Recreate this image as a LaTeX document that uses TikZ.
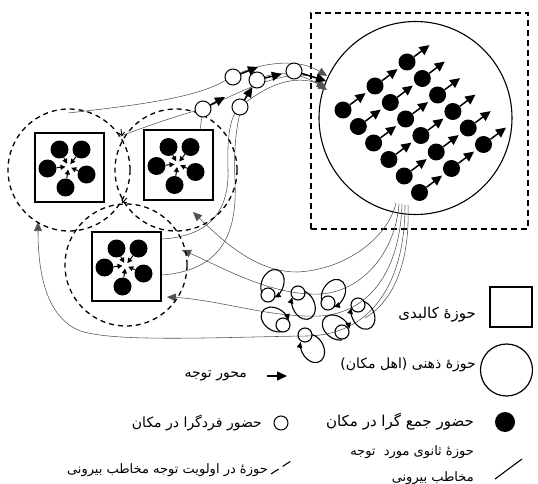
\documentclass[tikz,border=0pt]{standalone}
\usepackage{fontspec}
\newfontfamily\fa[Script=Arabic]{DejaVu Sans}
\TeXXeTstate=1
\usetikzlibrary{arrows.meta,calc}
\begin{document}
\begin{tikzpicture}[x=1pt,y=-1pt,
  thinline/.style={draw=black!68, line width=0.55pt},
  headed/.style={-{Triangle[length=9pt,width=8pt]}},
  attn/.style={line width=1.5pt, -{Triangle[length=10pt,width=9pt]}},
  ring/.style={draw, line width=1.3pt, dash pattern=on 5pt off 4pt},
  bodybox/.style={draw, line width=2pt, minimum size=69pt, inner sep=0pt},
  blob/.style={circle, fill=black, inner sep=0pt, minimum size=18pt},
  loner/.style={circle, draw, fill=white, line width=1pt, inner sep=0pt, minimum size=16pt},
  inward/.style={line width=1pt, -{Triangle[length=5pt,width=5pt]}, shorten >=3pt},
  gridarrow/.style={line width=1.5pt, -{Triangle[length=10pt,width=9.5pt]}},
  loopline/.style={line width=1.1pt},
  looptip/.style={line width=1.1pt, -{Triangle[length=6pt,width=5.5pt]}},
  lblbig/.style={font=\fa\fontsize{15pt}{18pt}\selectfont, anchor=east, inner sep=1pt},
  lblmid/.style={font=\fa\fontsize{14pt}{17pt}\selectfont, anchor=east, inner sep=1pt},
  lblsmall/.style={font=\fa\fontsize{13pt}{16pt}\selectfont, anchor=east, inner sep=1pt},
]
\useasboundingbox (0,0) rectangle (538,484);

% ---------- collective mental field ----------
\node[draw, line width=1.8pt, dash pattern=on 6pt off 4pt,
      minimum width=217pt, minimum height=216pt, inner sep=0pt] (frame) at (419.5,121) {};
\node[circle, draw, line width=1.1pt, minimum size=193pt, inner sep=0pt] (mind) at (415.5,118) {};
\foreach \r in {0,...,5} \foreach \k in {0,1,2} {
  \node[blob, minimum size=17pt] (g\r\k) at ($(343,110)+\r*(15.3,16.5)+\k*(32,-24)$) {};
  \draw[gridarrow] (g\r\k) -- ($(g\r\k)+(22.5,-16.9)$);
}

% ---------- end points of the thin attention curves ----------
\coordinate (in1) at (327,76);
\coordinate (in2) at (326,81);
\coordinate (in3) at (326,86);
\coordinate (in4) at (327,90);
\coordinate (c1s) at (68,113);
\coordinate (c2s) at (118,137);
\coordinate (q2t) at (200,130);
\coordinate (q3a) at (162,239);
\coordinate (q3b) at (162,275);
\coordinate (b1) at (396,203);
\coordinate (b2) at (399,204);
\coordinate (b3) at (402,204);
\coordinate (b4) at (405,205);
\coordinate (b5) at (408,205);
\coordinate (t1) at (193,212);
\coordinate (t2) at (182,250);
\coordinate (t3) at (167,297);
\coordinate (t4) at (38,222);
\coordinate (t5) at (365,318);

% curves toward the mental field
\draw[thinline, headed] (c1s) .. controls (150,104) and (200,96) .. (226,80)
      .. controls (252,64) and (295,56) .. (in1);
\draw[thinline] (c2s) .. controls (150,125) and (185,113) .. (203,109);
\draw[thinline, headed] (203,109) .. controls (235,95) and (285,66) .. (in2);
\draw[thinline] (q2t) -- (203,109);
\draw[thinline, headed] (q3a) .. controls (215,236) and (229,205) .. (228,170)
      .. controls (227,135) and (230,116) .. (240,107)
      .. controls (255,95) and (285,72) .. (in3);
\draw[thinline, headed] (q3b) .. controls (228,270) and (237,225) .. (235,180)
      .. controls (233,140) and (238,98) .. (257,80)
      .. controls (275,70) and (300,72) .. (in4);

% curves leaving the mental field
\draw[thinline, headed] (b1) .. controls (388,238) and (345,270) .. (297,272)
      .. controls (255,272) and (222,240) .. (t1);
\draw[thinline, headed] (b2) .. controls (395,255) and (360,292) .. (320,294)
      .. controls (270,296) and (220,266) .. (t2);
\draw[thinline, headed] (b3) .. controls (400,270) and (370,313) .. (320,316)
      .. controls (270,318) and (220,300) .. (t3);
\draw[thinline, headed] (b4) .. controls (405,285) and (370,335) .. (307,336)
      .. controls (220,337) and (110,343) .. (78,330)
      .. controls (45,315) and (38,270) .. (t4);
\draw[thinline] (b5) .. controls (410,260) and (395,300) .. (t5);

% ---------- physical fields with their groups ----------
\draw[ring] (69,170) circle[radius=61];
\draw[ring] (176,170) circle[radius=61];
\draw[ring] (126,265) circle[radius=61];
\draw[line width=0.9pt, -{Straight Barb[length=3pt,width=6pt]}] (121,129) -- (122,136);
\draw[line width=0.9pt, -{Straight Barb[length=3pt,width=6pt]}] (127,198) -- (122,203);

\foreach \n/\x/\y in {1/69.5/167.5, 2/178.5/165, 3/126.5/266.5} {
  \node[bodybox] (box\n) at (\x,\y) {};
  \coordinate (hub\n) at ($(\x,\y)+(-1,-1)$);
  \foreach \dx/\dy [count=\j] in {-10/-18, 12/-18, -22/1, 17/7, -4/20} {
    \node[blob] (box\n-\j) at ($(\x,\y)+(\dx,\dy)$) {};
    \draw[inward] (box\n-\j) -- (hub\n);
  }
}

% ---------- individual presences ----------
\node[loner] (s1) at (233,77) {};
\node[loner] (s2) at (257,80) {};
\node[loner] (s3) at (294,71) {};
\node[loner] (s4) at (203,109) {};
\node[loner] (s5) at (240,107) {};
\coordinate (a4) at (225,97);
\coordinate (a1) at (258,67);
\draw[attn] (s4) -- (a4);
\draw[attn] (s1) -- (a1);
\draw[attn] (s5) -- (s2);
\draw[attn, shorten >=4pt] (s2) -- (s3);
\draw[attn] (s3) -- (in2);

% ---------- secondary fields (self loops) ----------
\foreach \cx/\cy/\ex/\ey in {268/295/272.5/284, 298/293/303.5/305, 328/303/333.5/293.5,
    358/305/363/315, 283/325/275/319.5, 305/335/312.5/348.5, 342/332/336/327.5} {
  \draw[loopline] (\cx,\cy) circle[radius=7];
  \pgfmathsetmacro{\ang}{atan2(\ey-\cy,\ex-\cx)}
  \draw[looptip, shift={(\ex,\ey)}, rotate=-\ang]
       (215:15 and 11) arc[start angle=215, end angle=500, x radius=15, y radius=11];
}

% ---------- legend ----------
\node[draw, line width=1.2pt, minimum width=42pt, minimum height=40pt, inner sep=0pt] (lgbox) at (511,307) {};
\node[lblbig] (lgboxt) at (477,315) {\beginR حوزهٔ کالبدی\endR};
\node[circle, draw, line width=1.2pt, minimum size=52pt, inner sep=0pt] (lgring) at (506.5,370) {};
\node[lblmid] (lgringt) at (477,365) {\beginR حوزهٔ ذهنی (اهل مکان)\endR};
\coordinate (lga0) at (267,376);
\coordinate (lga1) at (287,376);
\draw[attn] (lga0) -- (lga1);
\node[lblmid] (lgat) at (248,376) {\beginR محور توجه\endR};
\node[loner, minimum size=14pt] (lgone) at (281,423) {};
\node[lblmid] (lgonet) at (263,423) {\beginR حضور فردگرا در مکان\endR};
\node[blob, minimum size=20pt] (lgmany) at (505,422) {};
\node[lblbig] (lgmanyt) at (475,422) {\beginR حضور جمع گرا در مکان\endR};
\node[lblsmall] (lgsec) at (475,452) {\beginR حوزهٔ ثانوی مورد\ \ توجه\endR};
\node[lblsmall] (lgsecb) at (475,478) {\beginR مخاطب بیرونی\endR};
\coordinate (lgs0) at (495,479);
\coordinate (lgs1) at (522,459);
\draw[line width=1.1pt] (lgs0) -- (lgs1);
\node[lblsmall] (lgpri) at (269,470) {\beginR حوزهٔ در اولویت توجه مخاطب بیرونی\endR};
\coordinate (lgd0) at (271,474);
\coordinate (lgd1) at (294,459);
\draw[line width=1.1pt, dash pattern=on 9pt off 5pt] (lgd0) -- (lgd1);
\end{tikzpicture}
\end{document}
